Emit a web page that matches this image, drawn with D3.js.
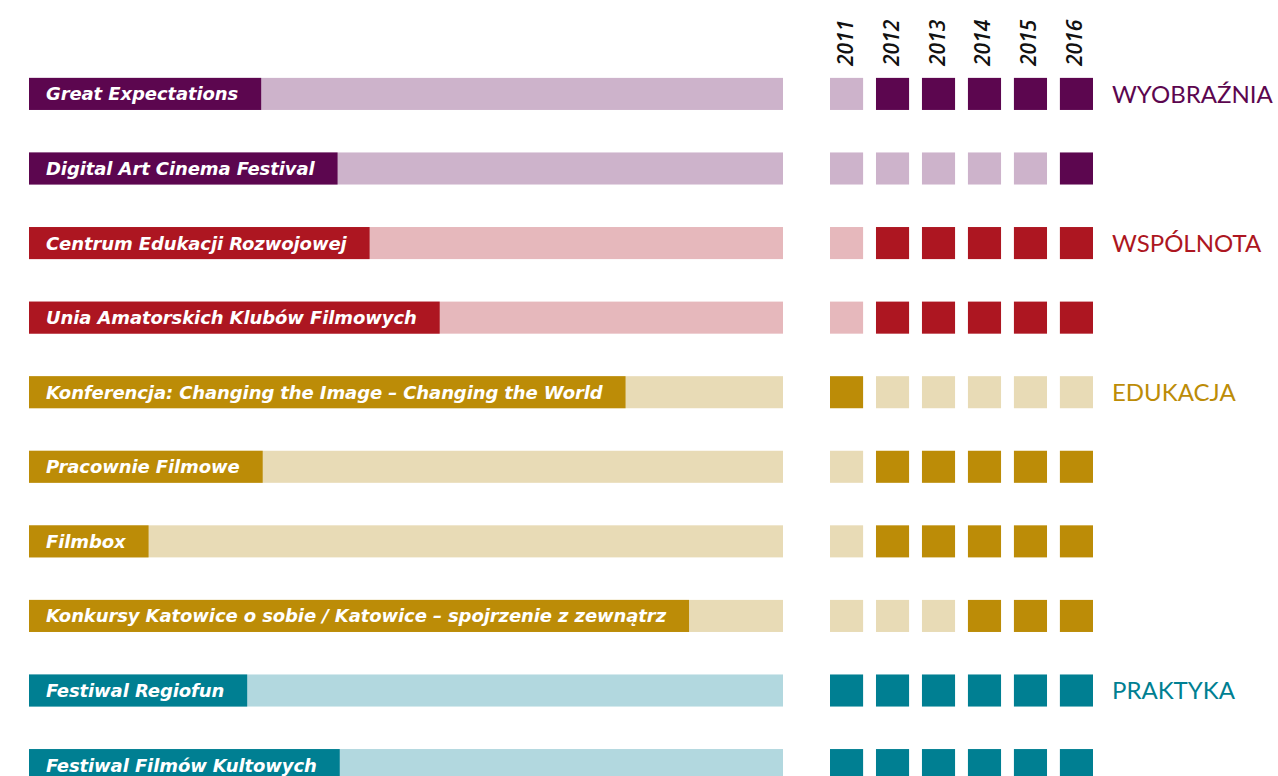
<!DOCTYPE html>
<html><head><meta charset="utf-8">
<script src="https://cdn.jsdelivr.net/npm/d3@7"></script>
<style>body{margin:0;background:#fff;}svg{display:block;}</style>
</head><body>
<svg id="c" width="1278" height="776"></svg>
<script>
const years = ["2011","2012","2013","2014","2015","2016"];
const projects = [
  "Great Expectations",
  "Digital Art Cinema Festival",
  "Centrum Edukacji Rozwojowej",
  "Unia Amatorskich Klubów Filmowych",
  "Konferencja: Changing the Image – Changing the World",
  "Pracownie Filmowe",
  "Filmbox",
  "Konkursy Katowice o sobie / Katowice – spojrzenie z zewnątrz",
  "Festiwal Regiofun",
  "Festiwal Filmów Kultowych"
];
const groupOf = ["WYOBRAŹNIA","WYOBRAŹNIA","WSPÓLNOTA","WSPÓLNOTA","EDUKACJA","EDUKACJA","EDUKACJA","EDUKACJA","PRAKTYKA","PRAKTYKA"];
const activity = [
  [0,1,1,1,1,1],
  [0,0,0,0,0,1],
  [0,1,1,1,1,1],
  [0,1,1,1,1,1],
  [1,0,0,0,0,0],
  [0,1,1,1,1,1],
  [0,1,1,1,1,1],
  [0,0,0,1,1,1],
  [1,1,1,1,1,1],
  [1,1,1,1,1,1]
];
const groups = ["WYOBRAŹNIA","WSPÓLNOTA","EDUKACJA","PRAKTYKA"];
const darkColors = ["#5c064f","#ad1621","#bc8c07","#007f92"];
const lightColors = ["#cdb3cb","#e6b8bc","#e8dbb6","#b2d8df"];

const svg = d3.select("#c");
const dark = d3.scaleOrdinal(groups, darkColors);
const light = d3.scaleOrdinal(groups, lightColors);

const y = d3.scaleBand().domain(d3.range(projects.length)).range([57, 802]).paddingInner(0.57).paddingOuter(0.28);
const x = d3.scaleBand().domain(years).range([830, 1093]).paddingInner(0.28).paddingOuter(0);
const barX = d3.scaleLinear().domain([0,1]).range([29, 783]);

const rows = svg.selectAll("g.row").data(projects).join("g").attr("class","row")
  .attr("transform",(d,i)=>`translate(0,${y(i)})`);

rows.append("rect").attr("x",barX(0)).attr("y",0).attr("width",barX(1)-barX(0)).attr("height",y.bandwidth())
  .attr("fill",(d,i)=>light(groupOf[i]));

const lblBox = rows.append("rect").attr("x",barX(0)).attr("y",0).attr("height",y.bandwidth())
  .attr("fill",(d,i)=>dark(groupOf[i]));
const lbl = rows.append("text").attr("x",barX(0)+17).attr("y",y.bandwidth()/2).attr("dy","0.36em")
  .attr("fill","#fff").attr("font-family","'DejaVu Sans'").attr("font-weight","bold").attr("font-style","italic")
  .attr("font-size",18).attr("letter-spacing","-0.1px").text(d=>d);
lbl.each(function(d,i){
  const w = this.getComputedTextLength();
  d3.select(lblBox.nodes()[i]).attr("width", w + 40);
});

rows.selectAll("rect.sq").data((d,i)=>activity[i].map((v,j)=>({v,j,i}))).join("rect").attr("class","sq")
  .attr("x",d=>x(years[d.j])).attr("y",0).attr("width",x.bandwidth()).attr("height",y.bandwidth())
  .attr("fill",d=>d.v? dark(groupOf[d.i]) : light(groupOf[d.i]));

// year headers
svg.selectAll("text.yr").data(years).join("text").attr("class","yr")
  .attr("transform",d=>`translate(${x(d)+x.bandwidth()/2+6},66) rotate(-90)`)
  .attr("font-family","'Open Sans'").attr("font-style","italic").attr("font-weight",600).attr("font-size",21).attr("fill","#111")
  .text(d=>d);

// group labels
groups.forEach(g=>{
  const i = groupOf.indexOf(g);
  svg.append("text").attr("x",1112).attr("y",y(i)+y.bandwidth()/2).attr("dy","0.36em")
    .attr("font-family","Lato").attr("font-size",24).attr("fill",dark(g)).text(g);
});
</script>
</body></html>
